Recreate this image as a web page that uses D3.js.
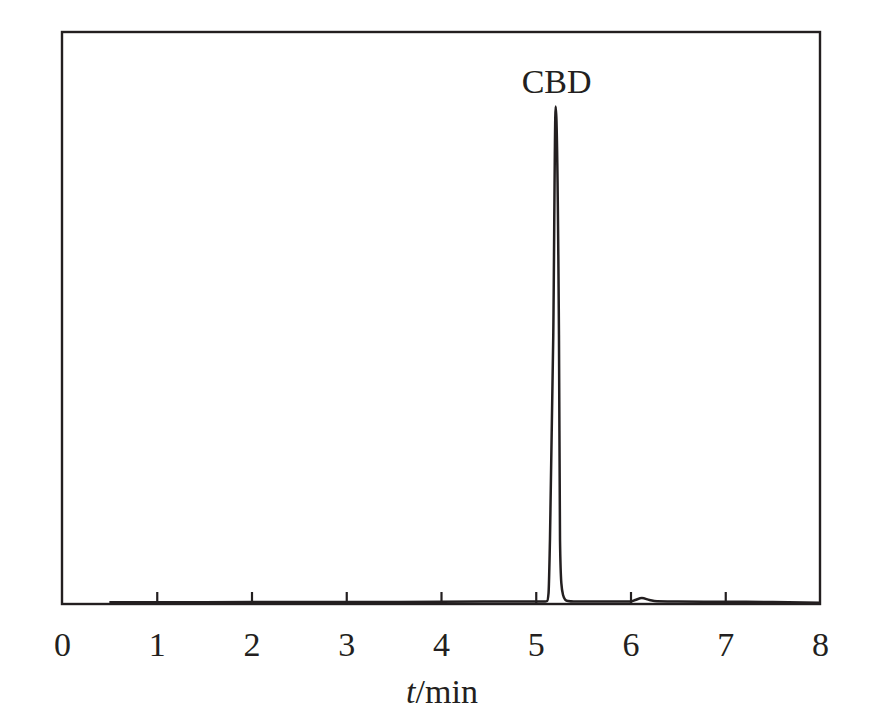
<!DOCTYPE html>
<html>
<head>
<meta charset="utf-8">
<script src="https://cdn.jsdelivr.net/npm/d3@7"></script>
<style>
  html, body { margin: 0; padding: 0; background: #fff; }
  svg { display: block; }
  text { font-family: "Liberation Serif", "Times New Roman", serif; fill: #231f20; }
</style>
</head>
<body>
<svg id="chart" width="874" height="720"></svg>
<script>
// Chromatogram data (time in min, relative signal)
const times  = [0.5, 1.0, 2.0, 3.0, 4.0, 5.0, 5.10, 5.12, 5.135, 5.15, 5.185, 5.21, 5.245, 5.256, 5.27, 5.29, 5.31, 5.34, 5.40, 6.00, 6.05, 6.12, 6.20, 6.28, 6.50, 7.00, 7.50, 8.00];
const signal = [0.15, 0.15, 0.2, 0.2, 0.25, 0.3, 0.3, 0.4, 2.0, 12.7, 54, 100, 54, 12.7, 4.0, 1.5, 0.7, 0.4, 0.3, 0.3, 0.6, 1.0, 0.6, 0.35, 0.3, 0.25, 0.2, 0.05];
const xTicks = [0, 1, 2, 3, 4, 5, 6, 7, 8];
const peakLabel = { name: "CBD", time: 5.21, value: 100 };
const xTitleItalic = "t";
const xTitleRest = "/min";

const svg = d3.select("#chart");
const mLeft = 62, mRight = 820, mTop = 32, mBottom = 604;
const ink = "#231f20";
const fontSize = "34px";

const x = d3.scaleLinear().domain([0, 8]).range([mLeft, mRight]);
const y = d3.scaleLinear().domain([0, 115]).range([mBottom - 1, mTop]);

// trace
const line = d3.line()
  .x((d, i) => x(times[i]))
  .y(d => y(d))
  .curve(d3.curveMonotoneX);
svg.append("path")
  .datum(signal)
  .attr("d", line)
  .attr("fill", "none")
  .attr("stroke", ink)
  .attr("stroke-width", 2.5)
  .attr("stroke-linejoin", "round");

// frame
svg.append("rect")
  .attr("x", mLeft).attr("y", mTop)
  .attr("width", mRight - mLeft).attr("height", mBottom - mTop)
  .attr("fill", "none").attr("stroke", ink).attr("stroke-width", 2.4);

// x axis with inward ticks
const axis = d3.axisBottom(x).tickValues(xTicks).tickSize(0).tickPadding(0).tickFormat(d3.format("d"));
const gx = svg.append("g").attr("transform", `translate(0,${mBottom})`).call(axis);
gx.select(".domain").remove();
gx.selectAll(".tick line").remove();
gx.selectAll(".tick").filter(d => d > 0 && d < 8)
  .append("line")
  .attr("y1", 0).attr("y2", -12)
  .attr("stroke", ink).attr("stroke-width", 2.2);
gx.selectAll(".tick text")
  .attr("y", 52).attr("dy", null)
  .attr("fill", ink)
  .style("font-size", fontSize)
  .style("font-family", "'Liberation Serif', 'Times New Roman', serif");

// axis title
const title = svg.append("text")
  .attr("x", (mLeft + mRight) / 2 + 1).attr("y", 703)
  .attr("text-anchor", "middle")
  .style("font-size", fontSize);
title.append("tspan").style("font-style", "italic").text(xTitleItalic);
title.append("tspan").text(xTitleRest);

// peak label
svg.append("text")
  .attr("x", x(peakLabel.time) + 1).attr("y", 93)
  .attr("text-anchor", "middle")
  .style("font-size", fontSize)
  .text(peakLabel.name);
</script>
</body>
</html>
